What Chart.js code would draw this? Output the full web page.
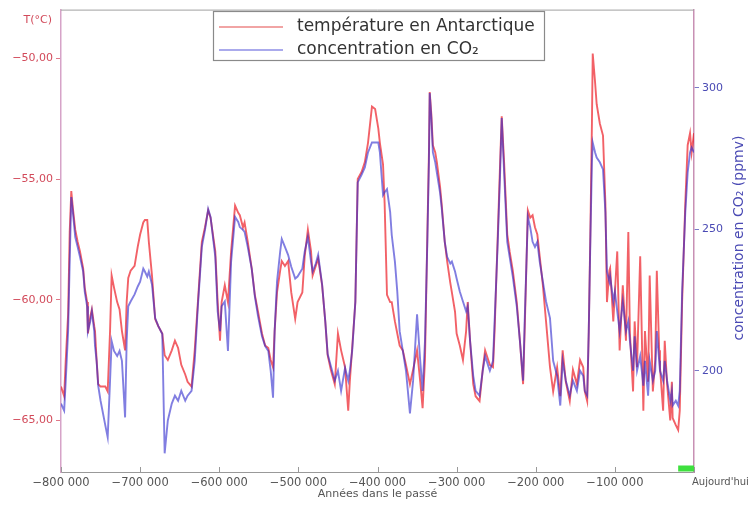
<!DOCTYPE html>
<html>
<head>
<meta charset="utf-8">
<script src="https://cdn.jsdelivr.net/npm/chart.js@4.4.1/dist/chart.umd.min.js"></script>
<style>
  html, body { margin: 0; padding: 0; background: #fff; }
  #wrap { width: 749px; height: 509px; }
</style>
</head>
<body>
<div id="wrap"><canvas id="graph"></canvas></div>
<script>
// âge en milliers d'années (0 = aujourd'hui)
const ages = [-800,-796,-794,-791,-789,-787,-785,-782,-779,-776,
  -772,-770,-767,-766,-763,-761,-758,-757,-755,-753,
  -750,-744,-741,-738,-736,-733,-729,-726,-723,-719,
  -717,-715,-712,-707,-703,-700,-696,-694,-691,-689,
  -685,-681,-677,-672,-669,-665,-660,-656,-652,-648,
  -643,-640,-635,-631,-627,-622,-618,-614,-611,-605,
  -602,-599,-597,-593,-589,-585,-580,-576,-574,-570,
  -568,-564,-559,-555,-551,-546,-542,-538,-535,-532,
  -530,-527,-523,-521,-517,-513,-509,-504,-501,-495,
  -492,-488,-484,-482,-478,-475,-470,-466,-463,-459,
  -454,-450,-446,-441,-437,-435,-432,-428,-425,-420,
  -416,-412,-407,-403,-399,-397,-393,-391,-388,-384,
  -382,-378,-375,-372,-368,-364,-359,-355,-350,-346,
  -343,-340,-337,-335,-334,-332,-330,-327,-325,-321,
  -319,-315,-312,-308,-306,-302,-300,-296,-292,-288,
  -286,-283,-279,-276,-271,-267,-264,-260,-258,-254,
  -252,-248,-245,-243,-240,-236,-233,-229,-224,-220,
  -216,-214,-210,-207,-204,-201,-198,-195,-191,-187,
  -182,-178,-173,-169,-166,-162,-157,-153,-148,-144,
  -140,-138,-135,-133,-131,-129,-128,-125,-123,-119,
  -115,-112,-110,-107,-106,-102,-100,-97,-94,-90,
  -86,-83,-81,-77,-75,-72,-68,-64,-62,-58,
  -56,-52,-49,-47,-44,-43,-39,-37,-34,-30,
  -28,-27,-23,-20,-18,-15,-11,-8,-5,-3,
  0];

// température en Antarctique (°C)
const temperature = [-63.6,-64.0,-62.5,-60.6,-57.2,-55.5,-56.2,-57.1,-57.6,-58.0,
  -58.7,-59.5,-60.1,-61.4,-60.7,-60.4,-61.1,-61.3,-62.5,-63.5,
  -63.6,-63.6,-63.8,-61.3,-59.0,-59.5,-60.1,-60.4,-61.3,-62.1,
  -60.1,-59.1,-58.8,-58.6,-57.8,-57.3,-56.8,-56.7,-56.7,-57.6,
  -59.0,-60.8,-61.1,-61.4,-62.3,-62.5,-62.1,-61.7,-62.0,-62.7,
  -63.1,-63.4,-63.6,-62.1,-60.1,-57.6,-57.0,-56.3,-56.6,-58.0,
  -60.1,-61.7,-60.1,-59.4,-60.1,-58.0,-56.1,-56.4,-56.5,-57.0,
  -56.8,-57.6,-58.7,-59.8,-60.5,-61.4,-61.9,-62.0,-62.5,-62.8,
  -61.3,-59.7,-58.8,-58.4,-58.6,-58.4,-59.7,-60.8,-60.1,-59.7,
  -58.2,-57.1,-58.0,-59.0,-58.6,-58.3,-59.4,-60.9,-62.3,-62.9,
  -63.5,-61.4,-62.1,-62.8,-64.6,-63.4,-62.0,-60.1,-55.0,-54.7,
  -54.3,-53.5,-52.0,-52.1,-52.9,-53.5,-54.4,-56.0,-59.8,-60.1,
  -60.1,-60.9,-61.4,-61.9,-62.1,-62.7,-63.5,-62.9,-62.1,-63.4,
  -64.5,-62.5,-57.3,-53.9,-51.4,-52.3,-53.6,-53.9,-54.3,-55.3,
  -56.0,-57.6,-58.4,-59.3,-59.7,-60.5,-61.4,-61.9,-62.5,-61.3,
  -60.1,-61.7,-63.5,-64.0,-64.2,-62.9,-62.1,-62.5,-62.7,-62.8,
  -61.3,-57.3,-54.3,-52.4,-54.3,-57.3,-58.0,-58.8,-60.1,-61.7,
  -63.5,-61.3,-56.3,-56.6,-56.5,-57.0,-57.3,-58.2,-59.4,-60.9,
  -62.8,-63.8,-62.8,-64.0,-62.1,-63.4,-64.2,-62.9,-63.5,-62.5,
  -62.8,-63.8,-64.2,-61.3,-57.3,-52.7,-49.8,-51.0,-51.9,-52.7,
  -53.2,-56.0,-60.1,-58.8,-58.7,-60.9,-59.7,-58.0,-62.1,-59.4,
  -61.7,-57.2,-61.4,-63.8,-60.9,-62.8,-58.2,-64.6,-61.3,-63.4,
  -59.0,-63.8,-62.5,-58.8,-62.1,-62.8,-64.6,-61.7,-63.5,-65.0,
  -63.4,-64.9,-65.2,-65.4,-64.6,-60.1,-56.0,-53.6,-53.1,-53.9,
  -53.1];

// concentration en CO2 (ppmv)
const co2 = [188.4,185.9,196.5,214.0,238.6,261.4,256.1,247.3,243.8,240.3,
  235.1,228.0,222.8,214.0,217.5,221.0,214.0,208.7,203.5,194.7,
  189.4,180.7,176.5,196.5,210.5,207.0,205.2,207.0,203.5,183.5,
  210.5,222.8,224.5,227.0,229.8,231.5,236.1,235.1,233.3,235.1,
  230.5,218.6,215.8,213.0,170.8,182.4,188.4,191.2,189.4,192.9,
  189.4,191.2,192.9,203.5,222.8,243.8,249.8,257.2,254.4,240.3,
  221.0,214.0,222.8,224.5,207.0,238.6,254.4,252.6,250.8,249.8,
  249.1,243.8,236.1,226.3,219.3,212.2,208.7,207.0,200.0,190.5,
  214.0,231.5,242.1,246.6,243.8,241.0,236.8,232.6,233.3,236.1,
  242.1,247.3,238.6,235.1,237.9,241.0,230.5,217.5,205.9,201.7,
  196.5,200.0,192.9,201.0,196.5,200.0,207.0,224.5,266.6,269.4,
  271.9,277.2,280.7,280.7,280.7,277.2,262.1,263.1,264.2,256.1,
  248.0,238.6,228.0,214.0,207.0,200.0,184.9,196.5,220.0,203.5,
  192.9,210.5,245.6,273.7,298.2,289.4,277.2,273.7,270.1,263.1,
  257.9,245.6,240.3,237.9,238.6,235.1,232.6,228.0,224.5,221.0,
  222.8,210.5,198.2,192.9,191.2,200.0,205.2,201.7,200.0,203.5,
  217.5,245.6,270.1,289.4,270.1,245.6,240.3,233.3,222.8,210.5,
  196.5,217.5,254.4,250.8,245.6,243.8,245.6,238.6,231.5,224.5,
  218.6,203.5,198.2,187.7,203.5,196.5,191.2,196.5,192.9,200.0,
  198.2,192.9,191.2,214.0,245.6,273.7,280.7,277.2,275.4,273.7,
  271.2,256.1,235.1,231.5,233.3,224.5,228.0,221.0,214.0,224.5,
  214.0,217.5,210.5,200.0,212.2,200.0,205.2,194.7,203.5,191.2,
  203.5,196.5,200.0,214.0,203.5,200.0,196.5,203.5,196.5,189.4,
  192.9,187.7,189.4,187.7,192.9,228.0,256.1,270.1,277.2,278.9,
  277.2];

// bande verte : période récente
const recentAges = [-20, 0];
const recentMark = [-67.0, -67.0];

const ageTicks = [-800, -700, -600, -500, -400, -300, -200, -100, 0];
const tempTicks = [-65, -60, -55, -50];
const co2Ticks = [200, 250, 300];
const seriesLabels = ["température en Antarctique", "concentration en CO₂"];
const todayLabel = "Aujourd'hui";

const FONT = "DejaVu Sans";

const fmtAge = (v) => "−" + String(Math.abs(v * 1000)).replace(/\B(?=(\d{3})+(?!\d))/g, " ");
const fmtTemp = (v) => (v < 0 ? "−" : "") + Math.abs(v).toFixed(2).replace(".", ",");

const decor = {
  id: "decor",
  afterDraw(chart) {
    const { ctx, chartArea: a, scales } = chart;
    ctx.save();

    // cadre du haut
    ctx.strokeStyle = "#a0a0a0";
    ctx.lineWidth = 1;
    ctx.beginPath();
    ctx.moveTo(a.left, a.top + 0.5);
    ctx.lineTo(a.right, a.top + 0.5);
    ctx.stroke();

    // petites graduations vers l'intérieur sur l'axe des x
    ctx.strokeStyle = "#999";
    ctx.beginPath();
    ageTicks.forEach((v) => {
      const x = Math.round(scales.x.getPixelForValue(v)) + 0.5;
      ctx.moveTo(x, a.bottom);
      ctx.lineTo(x, a.bottom - 5);
    });
    ctx.stroke();

    // titre axe gauche
    ctx.fillStyle = "#d24a5a";
    ctx.font = "11px " + FONT;
    ctx.textAlign = "right";
    ctx.textBaseline = "middle";
    ctx.fillText("T(°C)", 52, 20);

    // "Aujourd'hui"
    ctx.fillStyle = "#555";
    ctx.font = "10px " + FONT;
    ctx.textAlign = "left";
    ctx.fillText(todayLabel, scales.x.getPixelForValue(0) - 2, 482);

    // titre axe droit
    ctx.save();
    ctx.translate(739, 238);
    ctx.rotate(-Math.PI / 2);
    ctx.fillStyle = "#4a4ab4";
    ctx.font = "14px " + FONT;
    ctx.textAlign = "center";
    ctx.fillText("concentration en CO₂ (ppmv)", 0, 0);
    ctx.restore();

    // légende
    ctx.fillStyle = "#fff";
    ctx.fillRect(213.5, 11.5, 331, 49);
    ctx.strokeStyle = "#8a8a8a";
    ctx.lineWidth = 1.2;
    ctx.strokeRect(213.5, 11.5, 331, 49);
    const legendColors = ["rgba(230,90,90,0.55)", "rgba(100,100,220,0.55)"];
    [27, 50].forEach((y, i) => {
      ctx.strokeStyle = legendColors[i];
      ctx.lineWidth = 2;
      ctx.beginPath();
      ctx.moveTo(219, y);
      ctx.lineTo(283, y);
      ctx.stroke();
      ctx.fillStyle = "#333";
      ctx.font = "17px " + FONT;
      ctx.textAlign = "left";
      ctx.textBaseline = "middle";
      ctx.fillText(seriesLabels[i], 297, y);
    });

    ctx.restore();
  },
};

new Chart(document.getElementById("graph"), {
  type: "line",
  data: {
    datasets: [
      {
        label: seriesLabels[0],
        data: ages.map((a, i) => ({ x: a, y: temperature[i] })),
        yAxisID: "yT",
        borderColor: "rgba(235,15,25,0.66)",
        borderWidth: 1.9,
        pointRadius: 0,
        tension: 0,
        order: 1,
      },
      {
        label: seriesLabels[1],
        data: ages.map((a, i) => ({ x: a, y: co2[i] })),
        yAxisID: "yC",
        borderColor: "rgba(45,40,205,0.6)",
        borderWidth: 1.9,
        pointRadius: 0,
        tension: 0,
        order: 0,
      },
      {
        label: "période récente",
        data: recentAges.map((a, i) => ({ x: a, y: recentMark[i] })),
        yAxisID: "yT",
        borderColor: "#3ee03e",
        borderWidth: 6,
        pointRadius: 0,
        order: 2,
      },
    ],
  },
  options: {
    responsive: true,
    maintainAspectRatio: false,
    animation: false,
    layout: { padding: { top: 6 } },
    plugins: { legend: { display: false }, tooltip: { enabled: false } },
    scales: {
      x: {
        type: "linear",
        min: -800,
        max: 0,
        afterBuildTicks: (s) => { s.ticks = ageTicks.map((v) => ({ value: v })); },
        afterFit: (s) => { s.height = 37; },
        grid: { display: false, drawTicks: false },
        border: { color: "#999", width: 1 },
        ticks: {
          padding: 4,
          color: "#555",
          maxRotation: 0,
          autoSkip: false,
          font: { family: FONT, size: 11.5 },
          callback: (v) => (v === 0 ? "" : fmtAge(v)),
        },
        title: {
          display: true,
          text: "Années dans le passé",
          color: "#555",
          font: { family: FONT, size: 11 },
          padding: { top: 0, bottom: 8 },
        },
      },
      yT: {
        position: "left",
        min: -67.14,
        max: -47.98,
        afterBuildTicks: (s) => { s.ticks = tempTicks.map((v) => ({ value: v })); },
        afterFit: (s) => { s.width = 61; },
        grid: { drawOnChartArea: false, tickLength: 5, color: "#e07888" },
        border: { color: "#d6a3c8", width: 1.5 },
        ticks: {
          padding: 3,
          color: "#d24a5a",
          font: { family: FONT, size: 11 },
          callback: (v) => fmtTemp(v),
        },
      },
      yC: {
        position: "right",
        min: 164.2,
        max: 327.7,
        afterBuildTicks: (s) => { s.ticks = co2Ticks.map((v) => ({ value: v })); },
        afterFit: (s) => { s.width = 55; },
        grid: { drawOnChartArea: false, tickLength: 5, color: "#7a7ac8" },
        border: { color: "#c890b4", width: 1.5 },
        ticks: {
          padding: 3,
          color: "#4a4ab4",
          font: { family: FONT, size: 11 },
        },
      },
    },
  },
  plugins: [decor],
});
</script>
</body>
</html>
